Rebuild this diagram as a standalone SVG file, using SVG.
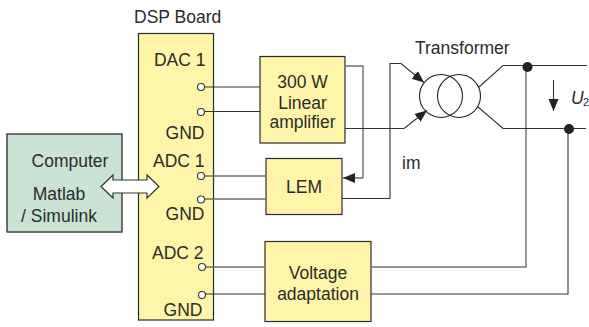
<svg xmlns="http://www.w3.org/2000/svg" width="589" height="327" viewBox="0 0 589 327">
<style>
text{font-family:"Liberation Sans",Arial,sans-serif;font-size:17.500px;fill:#2b2b2b}
.m{text-anchor:middle}
.e{text-anchor:end}
.box{fill:#fff5a8;stroke:#2b2b2b;stroke-width:1.2}
.pc{fill:#c9e4d4;stroke:#3a3a3a;stroke-width:1.4}
.w{fill:none;stroke:#333;stroke-width:1.1}
.g{fill:none;stroke:#6e6e6e;stroke-width:1.4}
.pin{fill:#fff;stroke:#333;stroke-width:1.1}
.dot{fill:#222}
.hd{fill:#222}
</style>
<defs>
<marker id="a" markerWidth="14" markerHeight="12" refX="12" refY="5" orient="auto" markerUnits="userSpaceOnUse"><path class="hd" d="M0 0L12 5L0 10z"/></marker>
</defs>
<rect width="589" height="327" fill="#fff"/>
<g id="computer"><rect class="pc" x="7" y="134" width="115" height="98"/>
<text x="70" y="167" class="m">Computer</text><text x="59" y="200" class="m">Matlab</text><text x="59" y="222" class="m">/ Simulink</text></g>
<g id="dsp"><rect class="box" x="138.500" y="33.500" width="75" height="286.500"/>
<text x="205.500" y="66" class="e">DAC 1</text><text x="204.500" y="139" class="e">GND</text><text x="204.500" y="167" class="e">ADC 1</text><text x="204.500" y="220" class="e">GND</text><text x="203.500" y="259" class="e">ADC 2</text><text x="202.500" y="316" class="e">GND</text></g>
<text x="134" y="23">DSP Board</text>
<g id="amplifier"><rect class="box" x="260" y="56.500" width="85" height="86.500"/>
<text x="302.500" y="88" class="m">300 W</text><text x="302.500" y="109" class="m">Linear</text><text x="302.500" y="128" class="m">amplifier</text></g>
<g id="lem"><rect class="box" x="266" y="158.500" width="76" height="56"/><text x="304" y="193" class="m">LEM</text></g>
<g id="voltage"><rect class="box" x="265" y="241.500" width="106" height="80"/>
<text x="318" y="279" class="m">Voltage</text><text x="318" y="300" class="m">adaptation</text></g>
<g id="transformer"><circle cx="441" cy="96" r="21.500" fill="none" stroke="#222" stroke-width="1.1"/><circle cx="459" cy="96" r="21.500" fill="none" stroke="#222" stroke-width="1.1"/></g>
<text x="415" y="54">Transformer</text>
<text x="402" y="169">im</text>
<text x="571" y="104" font-style="italic">U</text><text x="583" y="106" style="font-size:11px">2</text>
<g id="connectors">
<path class="w" d="M205 87H260M205 111.500H260"/>
<path class="g" d="M205 176H266M205 199H266M205 267H265M371 267H526V67"/>
<path class="w" d="M205 294H265M371 294H568V129"/>
<path class="g" d="M345 66H363V178"/>
<path class="w" d="M363 178H343" marker-end="url(#a)"/>
<path class="w" d="M345 128.500H404L427 110.500" marker-end="url(#a)"/>
<path class="w" d="M342 198.500H390V63.500H401L424 82.500" marker-end="url(#a)"/>
<path class="w" d="M479 87L503 65.500H587M478 107L503 128.500H586"/>
<path class="w" d="M553.500 80V111" marker-end="url(#a)"/>
<circle class="dot" cx="527.500" cy="67" r="5"/><circle class="dot" cx="569" cy="129" r="5"/>
<circle class="pin" cx="201" cy="87" r="3.500"/><circle class="pin" cx="201" cy="112" r="3.500"/><circle class="pin" cx="201" cy="176" r="3.500"/><circle class="pin" cx="201" cy="199.500" r="3.500"/><circle class="pin" cx="202" cy="267" r="3.500"/><circle class="pin" cx="202" cy="295" r="3.500"/>
<path d="M101 186.500L113 175V180H147V175L159 186.500L147 198V193H113V198z" fill="#fff" stroke="#333" stroke-width="1.2"/>
</g>
</svg>
